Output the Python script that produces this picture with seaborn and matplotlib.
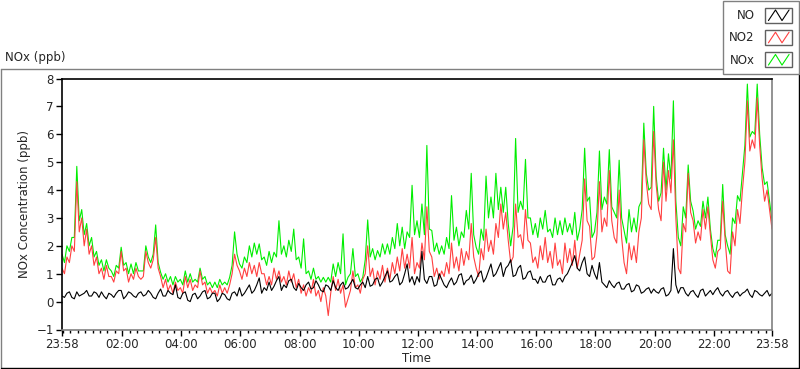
import numpy as np
import pandas as pd
import matplotlib
matplotlib.use("Agg")
import matplotlib.pyplot as plt
from matplotlib.lines import Line2D
from matplotlib.patches import Rectangle
from matplotlib.legend_handler import HandlerBase
import seaborn as sns

# readings every 10 minutes from 23:58 (..._main) and the ones in between (..._mid)
no_main = [0.2, 0.3, 0.15, 0.35, 0.25, 0.4,
           0.2, 0.3, 0.35, 0.1, 0.25, 0.3,
           0.4, 0.2, 0.3, 0.15, 0.35, 0.25,
           0.3, 0.1, 0.45, 0.2, 0.3, 0.6,
           0.1, 0.35, 0.0, 0.3, 0.2, 0.4,
           0.15, 0.3, 0.1, 0.25, 0.05, 0.35,
           0.5, 0.3, 0.6, 0.4, 0.85, 0.5,
           0.7, 0.55, 0.9, 0.6, 0.75, 0.5,
           0.65, 0.4, 0.7, 0.5, 0.6, 0.35,
           0.55, 0.75, 0.4, 0.7, 0.5, 0.8,
           0.45, 0.7, 0.9, 0.6, 0.85, 0.7,
           1.1, 0.75, 1.0, 0.7, 1.35, 0.9,
           0.9, 1.8, 0.65, 0.9, 0.6, 0.8,
           0.5, 0.85, 0.7, 1.0, 0.75, 0.95,
           0.8, 1.1, 0.85, 1.35, 1.0, 1.4,
           1.2, 1.5, 0.95, 1.3, 0.85, 1.1,
           0.8, 0.9, 0.7, 0.95, 0.6, 0.85,
           0.9, 1.2, 1.65, 1.1, 1.6, 0.9,
           1.0, 1.4, 0.6, 0.75, 0.5, 0.7,
           0.45, 0.65, 0.4, 0.55, 0.35, 0.5,
           0.45, 0.3, 0.5, 0.25, 1.9, 0.3,
           0.5, 0.2, 0.4, 0.15, 0.45, 0.3,
           0.25, 0.5, 0.2, 0.4, 0.15, 0.35,
           0.3, 0.45, 0.15, 0.35, 0.2, 0.4, 0.3]
no_mid = [0.15, 0.35, 0.1, 0.2, 0.3, 0.2,
          0.35, 0.15, 0.2, 0.3, 0.15, 0.4,
          0.1, 0.35, 0.2, 0.3, 0.2, 0.4,
          0.15, 0.3, 0.2, 0.4, 0.25, 0.15,
          0.3, 0.05, 0.25, 0.1, 0.35, 0.1,
          0.3, 0.0, 0.3, 0.1, 0.3, 0.2,
          0.2, 0.45, 0.3, 0.6, 0.3, 0.4,
          0.4, 0.75, 0.4, 0.5, 0.8, 0.4,
          0.5, 0.6, 0.45, 0.75, 0.4, 0.6,
          0.4, 0.5, 0.6, 0.45, 0.65, 0.5,
          0.6, 0.5, 0.55, 0.8, 0.55, 0.9,
          0.7, 0.9, 0.6, 1.0, 0.7, 0.6,
          0.7, 0.8, 0.9, 0.55, 1.0, 0.6,
          0.7, 0.6, 0.95, 0.6, 0.8, 0.65,
          1.0, 0.7, 1.1, 0.9, 1.2, 0.9,
          1.3, 0.9, 1.2, 0.8, 1.05, 0.8,
          0.65, 0.7, 0.9, 0.6, 0.8, 0.7,
          1.0, 1.4, 1.2, 1.4, 1.0, 1.3,
          0.8, 0.7, 0.5, 0.6, 0.65, 0.45,
          0.6, 0.35, 0.6, 0.3, 0.45, 0.3,
          0.35, 0.45, 0.2, 0.4, 0.6, 0.5,
          0.3, 0.35, 0.25, 0.4, 0.2, 0.4,
          0.4, 0.3, 0.35, 0.25, 0.3, 0.2,
          0.35, 0.25, 0.4, 0.25, 0.3, 0.2]

no2_main = [1.2, 1.6, 2.0, 4.3, 3.0, 2.6,
            2.0, 1.6, 1.2, 1.3, 0.9, 1.1,
            1.8, 1.2, 1.0, 1.2, 0.8, 1.8,
            1.2, 2.3, 0.9, 0.8, 0.6, 0.7,
            0.5, 0.9, 0.8, 0.6, 1.1, 0.7,
            0.5, 0.4, 0.6, 0.5, 0.6, 1.7,
            1.1, 1.2, 1.4, 1.3, 1.4, 1.0,
            0.9, 1.2, 1.1, 0.9, 1.1, 1.0,
            0.8, 0.6, 0.5, 0.8, 0.4, 0.5,
            -0.5, 0.9, 0.8, 0.6, 0.1, 1.1,
            0.6, 0.8, 2.0, 1.2, 1.1, 1.3,
            1.2, 1.4, 1.6, 1.9, 1.7, 2.3,
            1.4, 2.1, 3.4, 1.6, 1.2, 1.1,
            1.4, 2.1, 1.6, 1.9, 1.8, 2.8,
            1.2, 1.9, 2.6, 2.2, 2.8, 3.5,
            3.2, 1.4, 3.5, 2.4, 3.3, 2.1,
            1.6, 2.0, 2.3, 1.8, 2.1, 1.5,
            2.1, 1.9, 2.2, 1.7, 4.4, 2.7,
            1.6, 4.3, 3.0, 4.7, 2.3, 4.0,
            1.4, 2.1, 2.0, 2.5, 5.8, 3.5,
            6.1, 3.3, 5.0, 4.7, 5.8, 1.2,
            2.8, 4.6, 2.9, 2.5, 3.3, 3.4,
            1.5, 1.8, 3.6, 1.1, 2.5, 3.3,
            4.0, 7.2, 5.8, 7.3, 4.4, 4.0, 2.6]
no2_mid = [1.0, 1.4, 1.8, 2.5, 2.0, 1.7,
           1.3, 1.0, 0.8, 0.9, 0.7, 1.0,
           1.1, 0.7, 0.8, 0.9, 0.9, 1.4,
           1.5, 1.2, 0.5, 0.4, 0.3, 0.4,
           0.3, 0.5, 0.4, 0.5, 0.6, 0.3,
           0.3, 0.2, 0.3, 0.3, 1.0, 1.3,
           0.8, 0.9, 1.0, 0.9, 1.0, 0.6,
           0.6, 0.8, 0.7, 0.6, 0.7, 0.5,
           0.3, 0.2, 0.3, 0.2, 0.0, 0.2,
           0.3, 0.4, 0.3, -0.2, 0.4, 0.5,
           0.3, 1.0, 0.9, 0.6, 0.8, 0.7,
           0.8, 1.0, 1.1, 1.2, 1.2, 1.0,
           1.2, 1.5, 1.8, 0.9, 0.8, 0.9,
           1.0, 1.2, 1.1, 1.3, 1.5, 1.6,
           0.9, 1.5, 1.8, 1.7, 2.3, 2.6,
           2.2, 1.6, 2.3, 1.9, 2.2, 1.4,
           1.2, 1.5, 1.4, 1.2, 1.3, 1.0,
           1.4, 1.3, 1.2, 2.2, 2.9, 1.5,
           2.4, 2.5, 2.7, 2.9, 2.1, 2.3,
           1.0, 1.5, 1.4, 3.0, 4.3, 3.3,
           4.2, 2.9, 3.6, 3.9, 3.0, 1.0,
           2.5, 3.2, 2.1, 2.2, 2.6, 2.4,
           1.2, 1.9, 2.2, 1.0, 2.0, 2.8,
           5.0, 5.4, 5.5, 5.6, 3.6, 3.3]

nox_main = [1.7, 2.0, 2.3, 4.85, 3.3, 2.8,
            2.3, 1.8, 1.5, 1.5, 1.1, 1.3,
            1.95, 1.4, 1.35, 1.4, 1.1, 2.0,
            1.4, 2.75, 1.05, 1.0, 0.9, 0.9,
            0.8, 1.1, 1.0, 0.8, 1.2, 0.9,
            0.7, 0.7, 0.8, 0.7, 0.87, 2.5,
            1.35, 1.6, 2.0, 2.1, 2.07, 1.6,
            1.8, 1.77, 2.9, 2.0, 2.2, 2.6,
            1.6, 2.25, 1.1, 1.2, 0.9, 0.87,
            0.87, 1.35, 1.4, 2.43, 0.87, 1.9,
            1.0, 0.87, 2.93, 1.9, 1.83, 2.07,
            2.07, 2.3, 2.8, 2.67, 2.5, 4.17,
            2.9, 3.5, 5.6, 2.55, 2.1, 2.0,
            2.3, 3.8, 2.67, 2.5, 3.27, 4.6,
            1.95, 2.6, 4.5, 3.75, 4.6, 4.1,
            4.1, 2.0, 5.85, 3.6, 5.1, 3.0,
            2.8, 3.0, 3.27, 2.6, 3.0, 2.9,
            3.0, 2.8, 3.2, 2.6, 5.5, 3.75,
            2.5, 5.4, 3.75, 5.45, 3.2, 5.07,
            2.55, 3.3, 3.0, 3.4, 6.4, 4.0,
            7.0, 3.6, 5.5, 5.3, 7.2, 2.3,
            3.4, 4.9, 3.25, 2.9, 3.6, 3.75,
            1.9, 2.2, 4.2, 2.0, 3.0, 3.8,
            4.6, 7.8, 6.1, 7.8, 4.8, 4.3, 2.9]
nox_mid = [1.4, 1.8, 2.3, 2.9, 2.4, 2.0,
           1.6, 1.3, 1.1, 1.2, 0.9, 1.2,
           1.3, 1.0, 1.0, 1.1, 1.1, 1.6,
           1.7, 1.4, 0.8, 0.7, 0.6, 0.7,
           0.6, 0.7, 0.7, 0.7, 0.8, 0.6,
           0.5, 0.5, 0.6, 0.6, 1.3, 1.7,
           1.2, 1.4, 1.6, 1.7, 1.5, 1.3,
           1.4, 1.6, 1.7, 1.6, 1.8, 1.5,
           1.2, 1.0, 0.8, 0.8, 0.7, 0.7,
           0.7, 0.9, 1.0, 0.6, 1.0, 0.9,
           0.7, 1.5, 1.6, 1.5, 1.6, 1.7,
           1.7, 1.9, 2.0, 1.9, 2.3, 2.4,
           2.3, 2.4, 2.6, 1.8, 1.7, 1.7,
           1.9, 2.2, 2.0, 2.3, 2.6, 2.4,
           1.7, 2.2, 3.0, 3.0, 3.3, 3.2,
           2.8, 2.7, 3.2, 3.3, 3.0, 2.4,
           2.3, 2.6, 2.5, 2.3, 2.4, 2.4,
           2.5, 2.4, 2.2, 3.3, 3.6, 2.3,
           3.2, 3.3, 3.5, 3.4, 3.0, 3.0,
           2.1, 2.5, 2.5, 3.6, 4.6, 4.1,
           4.5, 3.9, 4.0, 4.4, 3.6, 2.0,
           3.0, 3.6, 2.6, 2.7, 3.0, 2.6,
           1.6, 2.2, 2.4, 1.7, 2.8, 3.6,
           5.6, 5.9, 6.0, 6.0, 4.2, 3.6]

tick_labels = ["23:58", "02:00", "04:00", "06:00", "08:00", "10:00", "12:00",
               "14:00", "16:00", "18:00", "20:00", "22:00", "23:58"]
series_colors = {"NO": "black", "NO2": "#ff4040", "NOx": "#00ee00"}


def interleave(main, mid):
    out = np.empty(len(main) + len(mid))
    out[0::2] = main
    out[1::2] = mid
    return out


class BoxedZigzag(HandlerBase):
    # legend swatch: small framed box with a zigzag in the series colour
    def create_artists(self, legend, orig_handle, xdescent, ydescent,
                       width, height, fontsize, trans):
        x0, y0 = -xdescent, -ydescent
        box = Rectangle((x0, y0), width, height, fill=False,
                        edgecolor="#606060", linewidth=1, transform=trans)
        fx = np.array([0.12, 0.38, 0.62, 0.88])
        fy = np.array([0.15, 0.85, 0.15, 0.85])
        zig = Line2D(x0 + fx * width, y0 + fy * height,
                     color=orig_handle.get_color(), linewidth=0.8, transform=trans)
        return [box, zig]


# 5-minute steps, in hours since 23:58
hours = np.arange(289) / 12.0

df = pd.DataFrame({"hours": np.tile(hours, 3),
                   "value": np.concatenate([interleave(nox_main, nox_mid),
                                            interleave(no2_main, no2_mid),
                                            interleave(no_main, no_mid)]),
                   "series": ["NOx"] * 289 + ["NO2"] * 289 + ["NO"] * 289})

sns.set_style("white")
plt.rcParams["font.family"] = ["DejaVu Sans"]
plt.rcParams["font.size"] = 8.5

fig = plt.figure(figsize=(8, 3.69), dpi=100)
ax = fig.add_axes([62 / 800, 39.5 / 369, 710 / 800, 251 / 369])

sns.lineplot(data=df, x="hours", y="value", hue="series",
             hue_order=["NOx", "NO2", "NO"], palette=series_colors,
             estimator=None, linewidth=0.8, legend=False, ax=ax)

ax.set_xlim(0, 24)
ax.set_ylim(-1, 8)
ax.set_yticks(range(-1, 9))
# 02:00 sits 2 minutes past the 2 h mark from 23:58
major = [0] + [h + 2 / 60 for h in range(2, 24, 2)] + [24]
ax.set_xticks(major)
ax.set_xticklabels(tick_labels)
ax.set_xticks(np.arange(2 / 60, 24, 0.25), minor=True)
ax.tick_params(axis="both", which="major", length=4, width=1, color="black",
               direction="out", pad=2, labelsize=8.5)
ax.tick_params(axis="x", which="minor", length=2.5, width=1, color="black",
               direction="out", bottom=True)
ax.tick_params(axis="y", left=True)
ax.tick_params(axis="x", bottom=True)

for side in ["left", "top"]:
    ax.spines[side].set_color("black")
for side in ["right", "bottom"]:
    ax.spines[side].set_color("#808080")
for s in ax.spines.values():
    s.set_linewidth(1.2)

ax.set_xlabel("Time", fontsize=8.5, labelpad=1)
ax.set_ylabel("NOx Concentration (ppb)", fontsize=8.5, labelpad=4)

fig.text(5 / 800, 1 - 57 / 369, "NOx (ppb)", fontsize=8.5, va="center", ha="left")

# outer panel frame
fig.add_artist(Line2D([1 / 800, 730 / 800], [1 - 69 / 369] * 2, color="#808080", lw=1))
fig.add_artist(Line2D([1 / 800, 1 / 800], [1 - 69 / 369, 1 / 369], color="#808080", lw=1))
fig.add_artist(Line2D([1 / 800, 799 / 800], [1 / 369, 1 / 369], color="black", lw=1))
fig.add_artist(Line2D([798.5 / 800, 798.5 / 800], [1 / 369, 1 - 73 / 369], color="black", lw=1))

handles = [Line2D([], [], color=series_colors[k], lw=0.8) for k in ["NO", "NO2", "NOx"]]
leg = fig.legend(handles, ["NO", "NO2", "NOx"], loc="upper right",
                 bbox_to_anchor=(1.0, 1.0), markerfirst=False,
                 handlelength=2.3, handleheight=1.6,
                 handletextpad=0.9, labelspacing=0.6, borderpad=0.55,
                 fontsize=8.5, fancybox=False, framealpha=1, borderaxespad=0.1,
                 handler_map={Line2D: BoxedZigzag()})
leg.get_frame().set_edgecolor("#808080")
leg.get_frame().set_linewidth(1)

fig.savefig("out.png", dpi=100)
